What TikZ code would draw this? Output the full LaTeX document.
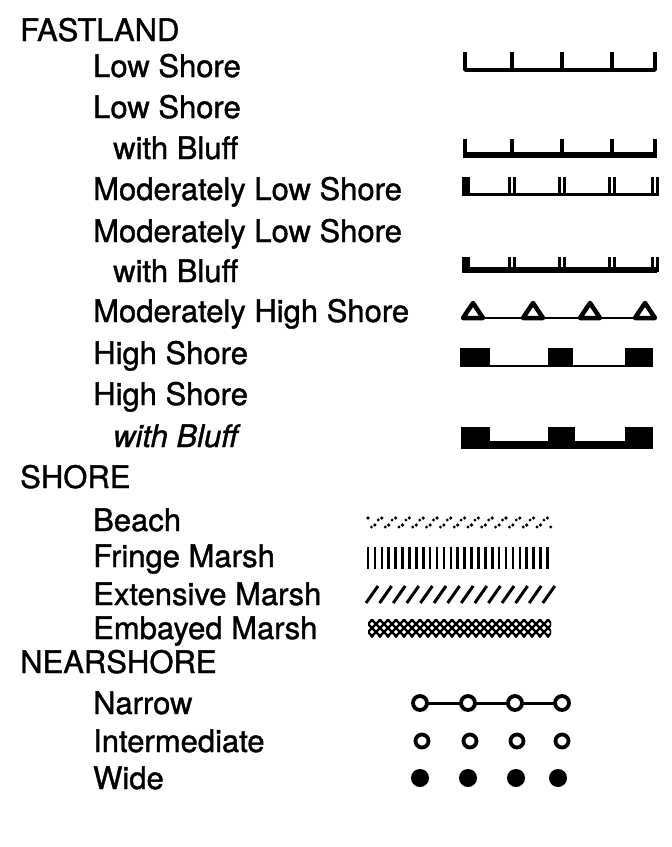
\documentclass[tikz,border=0pt]{standalone}
\usepackage{fontspec}
\setmainfont{TeX Gyre Heros}[FakeBold=1.2]
\begin{document}
\begin{tikzpicture}[x=1pt,y=-1pt,
  lbl/.style={anchor=base west, inner sep=0pt, font=\fontsize{31}{36}\selectfont},
  thinln/.style={line width=3.5pt},
  thickln/.style={line width=5.5pt},
  tick/.style={line width=3.5pt},
  ring/.style={line width=3.8pt}]
\useasboundingbox (0,0) rectangle (672,847);
% ---------- labels ----------
\node[lbl] (fastland) at (20,41) {FASTLAND};
\node[lbl] (ls) at (93,77) {Low Shore};
\node[lbl] (lsb1) at (93,118) {Low Shore};
\node[lbl] (lsb2) at (113,159) {with Bluff};
\node[lbl] (mls) at (93,200) {Moderately Low Shore};
\node[lbl] (mlsb1) at (93,242) {Moderately Low Shore};
\node[lbl] (mlsb2) at (113,282) {with Bluff};
\node[lbl] (mhs) at (93,322) {Moderately High Shore};
\node[lbl] (hs) at (93,364) {High Shore};
\node[lbl] (hsb1) at (93,405) {High Shore};
\node[lbl] (hsb2) at (113,447) {\itshape with Bluff};
\node[lbl] (shore) at (20,488) {SHORE};
\node[lbl] (beach) at (93,531) {Beach};
\node[lbl] (fringe) at (93,567) {Fringe Marsh};
\node[lbl] (ext) at (93,605) {Extensive Marsh};
\node[lbl] (emb) at (93,639) {Embayed Marsh};
\node[lbl] (near) at (20,673) {NEARSHORE};
\node[lbl] (narrow) at (93,714) {Narrow};
\node[lbl] (inter) at (93,752) {Intermediate};
\node[lbl] (wide) at (93,789) {Wide};
% ---------- Low Shore ----------
\draw[thinln, line join=round] (465,52) -- (465,70) -- (655,70) -- (655,52);
\foreach \x in {512,562,612} \draw[tick] (\x,52) -- (\x,70);
% ---------- Low Shore with Bluff ----------
\draw[thickln] (463,155) -- (657,155);
\foreach \x in {465,512,562,612,655} \draw[tick] (\x,139) -- (\x,155);
% ---------- Moderately Low Shore ----------
\draw[thinln] (464,194.5) -- (656,194.5);
\fill (462,177) rectangle (470,196);
\foreach \x in {512,562,612,655} {
  \draw[line width=3pt] (\x-3,177) -- (\x-3,196);
  \draw[line width=3pt] (\x+2.5,177) -- (\x+2.5,196);
}
% ---------- Moderately Low Shore with Bluff ----------
\draw[line width=5.5pt] (463,270) -- (657,270);
\fill (462,257) rectangle (470,273);
\foreach \x in {512,562,612,655} {
  \draw[line width=3pt] (\x-3,257) -- (\x-3,272);
  \draw[line width=3pt] (\x+2.5,257) -- (\x+2.5,272);
}
% ---------- Moderately High Shore ----------
\draw[line width=2.5pt] (473,318) -- (645,318);
\foreach \x in {473,533,590,645}
  \draw[line width=4.5pt, line join=round, fill=white] (\x-10,318) -- (\x,303) -- (\x+10,318) -- cycle;
% ---------- High Shore ----------
\draw[line width=2.5pt] (475,366) -- (640,366);
\fill (460,348) rectangle (490,367);
\fill (548,348) rectangle (573,367);
\fill (625,348) rectangle (653,367);
% ---------- High Shore with Bluff ----------
\fill (475,441) rectangle (640,449);
\fill (461,427) rectangle (490,449);
\fill (548,427) rectangle (575,449);
\fill (625,427) rectangle (653,449);
% ---------- Beach ----------
\foreach \i in {0,...,26} {
  \pgfmathsetmacro{\bx}{368+\i*6.9}
  \pgfmathsetmacro{\by}{mod(\i,2)==0 ? 518 : 525}
  \fill (\bx,\by) circle (1.8);
  \pgfmathsetmacro{\cy}{mod(\i,2)==0 ? 527 : 520}
  \fill (\bx+3.4,\cy) circle (1.6);
}
% ---------- Fringe Marsh ----------
\foreach \i in {0,...,26}
  \draw[line width=2.6pt] (368+\i*6.9,547) -- (368+\i*6.9,569);
% ---------- Extensive Marsh ----------
\foreach \i in {0,...,13}
  \draw[line width=3pt] (366+\i*13.6,603) -- (378+\i*13.6,586);
% ---------- Embayed Marsh ----------
\begin{scope}
  \clip (368,619) rectangle (551,637);
  \foreach \i in {0,...,26} {
    \draw[line width=2.2pt] (347+\i*8,637) -- (365+\i*8,619);
    \draw[line width=2.2pt] (347+\i*8,619) -- (365+\i*8,637);
  }
\end{scope}
% ---------- Narrow ----------
\draw[line width=3pt] (420,703) -- (562,703);
\foreach \x in {420,468,515,562} \draw[ring, fill=white] (\x,703) circle (7);
% ---------- Intermediate ----------
\foreach \x in {422,470,517,562} \draw[ring] (\x,741) circle (6.5);
% ---------- Wide ----------
\foreach \x in {420,468,516,558} \fill (\x,778) circle (9);
\end{tikzpicture}
\end{document}
